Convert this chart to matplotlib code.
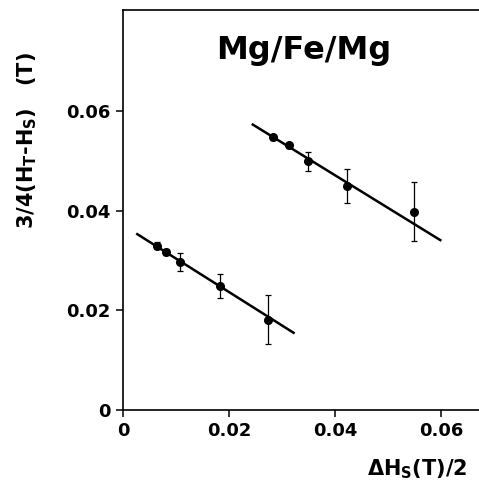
import matplotlib
matplotlib.use("Agg")
import matplotlib.pyplot as plt

# --- Daten ---
x_low = [0.0065, 0.0081, 0.0108, 0.0183, 0.0274]
y_low = [0.0330, 0.0318, 0.0298, 0.0249, 0.0181]
err_low = [0.0007, 0.0006, 0.0018, 0.0025, 0.0049]

x_high = [0.0283, 0.0314, 0.0349, 0.0423, 0.0549]
y_high = [0.0548, 0.0531, 0.0499, 0.0450, 0.0398]
err_high = [0.0005, 0.0006, 0.0019, 0.0034, 0.0059]

# Ausgleichsgeraden (Endpunkte)
fit_low_x = [0.0027, 0.0322]
fit_low_y = [0.0353, 0.0155]
fit_high_x = [0.0245, 0.0599]
fit_high_y = [0.0573, 0.0341]

xticks = [0, 0.02, 0.04, 0.06]
xticklabels = ["0", "0.02", "0.04", "0.06"]
yticks = [0, 0.02, 0.04, 0.06]
yticklabels = ["0", "0.02", "0.04", "0.06"]

plt.rcParams["font.family"] = "DejaVu Sans"
plt.rcParams["font.weight"] = "bold"
plt.rcParams["mathtext.fontset"] = "custom"
plt.rcParams["mathtext.rm"] = "DejaVu Sans:bold"
plt.rcParams["mathtext.it"] = "DejaVu Sans:bold"
plt.rcParams["mathtext.bf"] = "DejaVu Sans:bold"

fig = plt.figure(figsize=(4.79, 4.87), dpi=100)
ax = fig.add_axes([123 / 479, 77 / 487, 1 - 123 / 479, 400 / 487])

ax.plot(fit_low_x, fit_low_y, color="black", linewidth=1.8)
ax.plot(fit_high_x, fit_high_y, color="black", linewidth=1.8)
ax.errorbar(x_low, y_low, yerr=err_low, fmt="o", color="black",
            markersize=5.5, elinewidth=0.9, capsize=2.5, capthick=0.9)
ax.errorbar(x_high, y_high, yerr=err_high, fmt="o", color="black",
            markersize=5.5, elinewidth=0.9, capsize=2.5, capthick=0.9)

ax.set_xlim(0, 0.0672)
ax.set_ylim(0, 0.0803)
ax.set_xticks(xticks)
ax.set_xticklabels(xticklabels)
ax.set_yticks(yticks)
ax.set_yticklabels(yticklabels)
ax.tick_params(direction="out", length=5, width=1.1, labelsize=13, pad=4)
for s in ["left", "bottom", "top"]:
    ax.spines[s].set_linewidth(1.2)
ax.spines["right"].set_visible(False)

ax.text(304 / 479, 1 - 50 / 487, "Mg/Fe/Mg", transform=fig.transFigure,
        fontsize=23, fontweight="bold", ha="center", va="center")
fig.text(27 / 479, 1 - 141 / 487, r"3/4(H$_{\rm T}$-H$_{\rm S}$)   (T)",
         rotation=90, fontsize=15, fontweight="bold", ha="center", va="center")
fig.text(417 / 479, 1 - 469 / 487, r"$\Delta$H$_{\rm S}$(T)/2",
         fontsize=15, fontweight="bold", ha="center", va="center")

fig.savefig("out.png", dpi=100)
